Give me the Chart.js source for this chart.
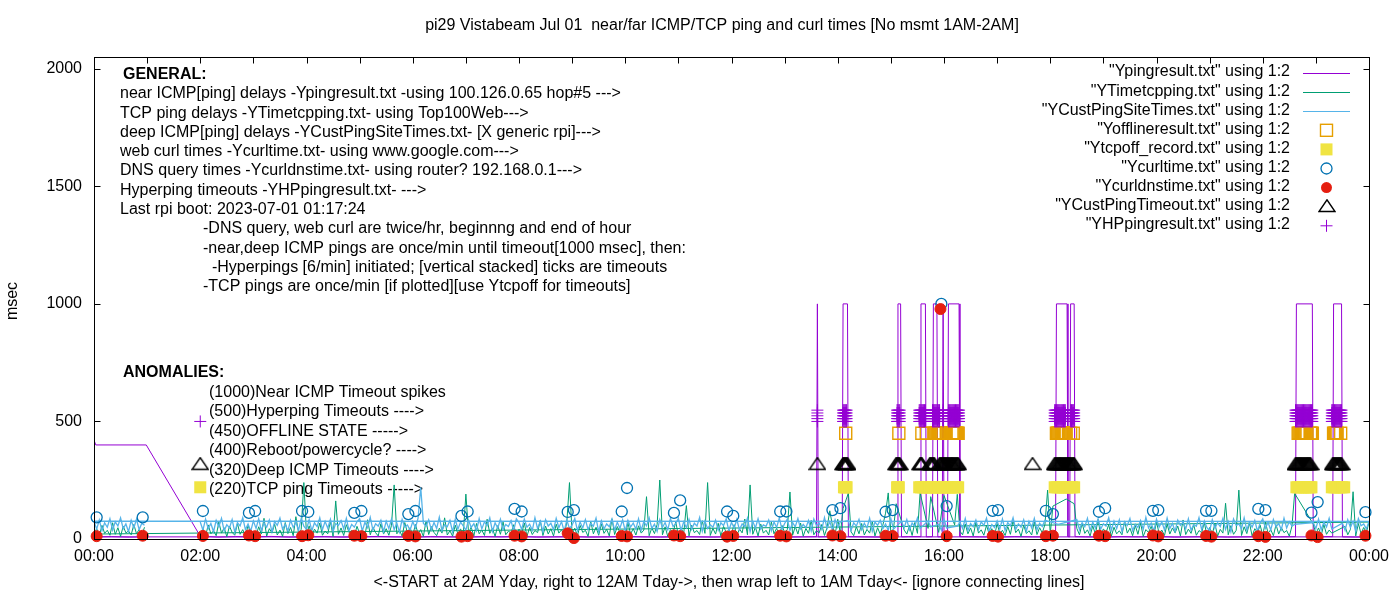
<!DOCTYPE html>
<html>
<head>
<meta charset="utf-8">
<script src="https://cdn.jsdelivr.net/npm/chart.js@4/dist/chart.umd.min.js"></script>
<style>
  html, body { margin: 0; padding: 0; background: #fff; }
</style>
</head>
<body>
<canvas id="pingChart" width="1400" height="600"></canvas>

<script>
const FONT = '"Liberation Sans", Arial, sans-serif';

const chartTitle = 'pi29 Vistabeam Jul 01  near/far ICMP/TCP ping and curl times [No msmt 1AM-2AM]';
const xTitle = '<-START at 2AM Yday, right to 12AM Tday->, then wrap left to 1AM Tday<- [ignore connecting lines]';
const yTitle = 'msec';
const timeLabels = ['00:00', '02:00', '04:00', '06:00', '08:00', '10:00', '12:00',
                    '14:00', '16:00', '18:00', '20:00', '22:00', '00:00'];
const yTickValues = [0, 500, 1000, 1500, 2000];

const generalNotes = [
    'near ICMP[ping] delays -Ypingresult.txt -using 100.126.0.65 hop#5 --->',
    'TCP ping delays -YTimetcpping.txt- using Top100Web--->',
    'deep ICMP[ping] delays -YCustPingSiteTimes.txt- [X generic rpi]--->',
    'web curl times -Ycurltime.txt- using www.google.com--->',
    'DNS query times -Ycurldnstime.txt- using router? 192.168.0.1--->',
    'Hyperping timeouts -YHPpingresult.txt- --->',
    'Last rpi boot: 2023-07-01 01:17:24'
];
const scheduleNotes = [
    '-DNS query, web curl are twice/hr, beginnng and end of hour',
    '-near,deep ICMP pings are once/min until timeout[1000 msec], then:',
    '  -Hyperpings [6/min] initiated; [vertical stacked] ticks are timeouts',
    '-TCP pings are once/min [if plotted][use Ytcpoff for timeouts]'
];
const anomalyNotes = [
    '(1000)Near ICMP Timeout spikes',
    '(500)Hyperping Timeouts ---->',
    '(450)OFFLINE STATE ----->',
    '(400)Reboot/powercycle? ---->',
    '(320)Deep ICMP Timeouts ---->',
    '(220)TCP ping Timeouts ----->'
];

// x values are minutes after midnight; file order is 2AM..midnight, then wraps to 0..1AM
const pingPoints = [
    [0, 421], [2, 400], [59, 400], [120, 12],
    [140, 8], [160, 10], [180, 9], [200, 11], [220, 8], [240, 9], [260, 10], [280, 8], [300, 9], [320, 11],
    [340, 9], [360, 8], [380, 10], [400, 9], [420, 8], [440, 10], [460, 9], [480, 11], [500, 8], [520, 9],
    [540, 10], [560, 8], [580, 9], [600, 11], [620, 9], [640, 8], [660, 10], [680, 9], [700, 8], [720, 10],
    [740, 9], [760, 11], [780, 8], [800, 9], [816, 10], [817, 1000], [818, 9], [830, 10],
    [845, 9], [846, 1000], [851, 1000], [852, 10], [870, 9], [890, 8],
    [907, 9], [908, 1000], [911, 1000], [912, 9], [920, 10],
    [933, 10], [934, 1000], [939, 1000], [940, 9], [947, 10], [948, 1000], [952, 1000], [953, 9],
    [958, 10], [959, 1000], [960, 10], [964, 9], [965, 1000], [977, 1000], [978, 10],
    [1000, 9], [1020, 8], [1040, 10], [1060, 9],
    [1086, 9], [1087, 1000], [1099, 1000], [1100, 10], [1102, 9], [1103, 1000], [1107, 1000], [1108, 10],
    [1120, 9], [1140, 8], [1160, 10], [1180, 9], [1200, 11], [1220, 8], [1240, 9], [1260, 10], [1280, 8],
    [1300, 9], [1320, 10], [1340, 9], [1357, 10], [1358, 1000], [1376, 1000], [1377, 9], [1390, 10],
    [1399, 10], [1400, 1000], [1409, 1000], [1410, 9], [1425, 8], [1440, 9],
    [0, 9], [20, 10], [40, 8], [58, 9]
];

// TCP ping, one value every 3 minutes from 02:00 to 24:00 (null = timeout), then 00:00..00:57
const tcpDay = [
    18, 45, 12, 60, 22, 35, 14, 72, 25, 48, 10, 55, 28, 16, 66, 20, 40, 13, 58, 24,
    30, 15, 52, 21, 88, 12, 44, 26, 63, 17, 38, 11, 70, 23, 49, 14, 95, 27, 41, 240,
    19, 56, 13, 42, 25, 68, 16, 34, 22, 75, 11, 162, 20, 47, 15, 61, 28, 36, 12, 54,
    24, 39, 14, 82, 18, 51, 27, 13, 65, 21, 44, 16, 58, 230, 22, 37, 12, 70, 26, 48,
    15, 62, 23, 40, 11, 77, 19, 53, 28, 14, 46, 25, 90, 17, 35, 12, 59, 21, 43, 16,
    191, 27, 50, 13, 66, 22, 38, 15, 84, 24, 45, 11, 57, 20, 72, 18, 33, 26, 61, 14,
    42, 23, 68, 12, 49, 19, 36, 27, 80, 15, 55, 21, 44, 13, 63, 25, 39, 17, 71, 240,
    20, 46, 14, 58, 28, 37, 11, 75, 22, 50, 16, 64, 24, 41, 13, 86, 19, 53, 27, 35,
    12, 69, 21, 44, 17, 56, 25, 38, 180, 14, 47, 23, 62, 251, 18, 52, 11, 40, 26, 73,
    16, 48, 22, 142, 13, 59, 27, 36, 19, 78, 24, 240, 15, 45, 21, 67, 12, 54, 28, 39,
    23, 61, 14, 43, 26, 85, 18, 230, 20, 50, 13, 64, 25, 37, 17, 72, 22, 46, 11, 58,
    27, 40, 200, 16, 53, 21, 68, 12, 45, 24, 79, 18, 36, 26, 62, 15, 49, 120, 57, 19,
    84, 23, 130, null, 195, 31, 14, 52, 22, 66, 17, 41, 25, 75, 13, 48, 20, 60, 110, 196,
    26, 44, 150, null, null, 38, 21, 57, 15, 70, 24, 197, null, null, 45, 180, null, null, 28, null,
    185, null, null, null, 60, 190, 33, 18, 64, 22, 47, 13, 71, 25, 39, 16, 58, 21, 44, 12,
    66, 24, 37, 15, 53, 20, 80, 27, 42, 11, 59, 23, 35, 17, 74, 19, 48, 26, 62, 208,
    22, 140, null, null, null, null, 170, null, null, 150, 45, 18, 67, 24, 39, 13, 56, 21, 83, 16,
    43, 27, 61, 12, 50, 22, 35, 18, 77, 25, 46, 14, 58, 20, 69, 11, 40, 28, 54, 17,
    72, 23, 38, 15, 64, 21, 47, 26, 55, 13, 81, 19, 42, 24, 60, 16, 36, 27, 70, 14,
    49, 22, 65, 12, 41, 25, 152, 18, 57, 20, 37, 208, 15, 52, 23, 68, 13, 44, 26, 59,
    17, 73, 24, 40, 14, 61, 21, 48, 27, 36, 12, 55, 194, null, null, null, null, null, null, 64,
    23, 47, 15, 62, 20, 38, 25, null, null, null, null, 54, 18, 41, 201, 13, 66, 22, 49, 27,
    72
];
const tcpWrap = [21, 44, 13, 58, 24, 37, 16, 69, 20, 48, 11, 55, 26, 34, 18, 62, 22, 41, 14, 50];

// deep ICMP ping, same sampling
const deepDay = [
    72, 38, 85, 44, 66, 31, 79, 52, 88, 35, 61, 47, 83, 29, 70, 56, 91, 40, 64, 33,
    77, 45, 86, 36, 68, 50, 81, 30, 74, 58, 89, 42, 63, 34, 80, 49, 71, 37, 87, 55,
    41, 82, 35, 69, 53, 90, 39, 75, 46, 84, 32, 66, 57, 78, 43, 88, 36, 62, 50, 73,
    86, 34, 71, 48, 92, 38, 65, 55, 80, 31, 76, 44, 85, 40, 68, 29, 83, 51, 60, 37,
    74, 47, 89, 220, 67, 54, 82, 39, 70, 45, 93, 36, 61, 52, 79, 30, 84, 42, 72, 56,
    38, 81, 49, 65, 35, 87, 43, 73, 57, 90, 32, 69, 46, 84, 40, 62, 53, 78, 34, 86,
    70, 41, 85, 50, 63, 37, 91, 44, 76, 31, 82, 55, 67, 39, 88, 48, 74, 33, 80, 45,
    59, 87, 36, 72, 47, 83, 40, 66, 54, 89, 30, 77, 43, 64, 52, 85, 38, 71, 46, 81,
    34, 79, 51, 68, 42, 86, 37, 74, 56, 90, 45, 63, 32, 82, 49, 70, 39, 87, 53, 65,
    88, 35, 73, 48, 84, 41, 67, 55, 92, 33, 76, 44, 61, 50, 80, 38, 69, 57, 85, 36,
    71, 46, 83, 39, 64, 53, 89, 31, 75, 47, 86, 42, 60, 54, 81, 35, 72, 49, 90, 40,
    66, 84, 37, 70, 52, 87, 43, 62, 48, 79, 34, 85, 56, 68, 41, 91, 45, 74, 38, 82,
    50, 73, null, null, 78, 36, 69, 55, 84, 40, 67, 47, 88, 33, 72, 58, 80, 44, 64, 37,
    86, 42, null, null, 75, 48, 83, 39, 68, 54, 90, 45, null, null, 77, 51, null, null, 63, 38,
    84, 47, null, null, null, 55, 71, 45, 87, 36, 66, 52, 81, 40, 73, 58, 89, 34, 62, 49,
    77, 43, 85, 37, 70, 56, 91, 41, 64, 50, 82, 33, 75, 47, 88, 39, 67, 53, 80, null,
    null, null, null, 62, null, null, null, 74, null, null, 83, 40, 69, 52, 88, 35, 72, 46, 85, 42,
    65, 55, 90, 38, 76, 44, 82, 31, 70, 57, 87, 36, 63, 49, 79, 41, 92, 47, 68, 34,
    84, 51, 73, 39, 89, 45, 66, 32, 80, 58, 71, 43, 86, 37, 62, 54, 91, 40, 77, 48,
    35, 82, 46, 69, 53, 88, 41, 74, 30, 85, 57, 64, 44, 90, 38, 72, 50, 79, 33, 67,
    86, 45, 71, 38, 83, 52, 66, 40, 89, 47, 74, 55, 62, null, null, null, null, null, null, 70,
    44, 85, 39, 73, 51, 88, 42, null, null, null, 67, 37, 82, 49, 76, 34, 87, 56, 64, 43,
    75
];
const deepWrap = [76, 42, 81, 35, 69, 50, 86, 38, 73, 55, 90, 44, 64, 31, 79, 47, 84, 40, 67, 58];

const OFFLINE_LEVEL = 450;
const offlineTimes = [
    849, 909, 935, 940, 949, 950, 951, 952, 953, 954, 955, 956, 957, 958, 959,
    969, 970, 971, 972, 973, 974, 975, 976,
    1087, 1088, 1089, 1090, 1091, 1092, 1093, 1094, 1095, 1096, 1097, 1098, 1103, 1106,
    1360, 1361, 1362, 1363, 1364, 1365, 1366, 1367, 1368, 1369, 1370, 1374, 1375, 1376,
    1400, 1401, 1402, 1403, 1404, 1408
];

const TCPOFF_LEVEL = 220;
const tcpoffTimes = [
    120, 847, 848, 849, 850, 907, 908, 909,
    932, 934, 936, 938, 940, 942, 944, 946, 948, 950, 952, 954, 956, 958, 960, 962, 964, 966, 968, 970, 972, 974, 976,
    1085, 1087, 1089, 1091, 1093, 1095, 1097, 1099, 1101, 1103, 1105, 1107,
    1358, 1360, 1362, 1364, 1366, 1368, 1370, 1372, 1374, 1375,
    1398, 1400, 1402, 1404, 1406, 1408, 1410, 1412
];

const curlTimes = [
    3, 55, 123, 175, 182, 235, 242, 294, 302, 355, 363, 415, 422, 475, 483, 535, 542, 596, 602,
    655, 662, 715, 722, 775, 782, 834, 843, 894, 902, 957, 963, 1015, 1021, 1075, 1083,
    1135, 1142, 1196, 1202, 1256, 1262, 1315, 1323, 1375, 1382, 1436
];
const curlValues = [
    92, 92, 119, 111, 119, 119, 115, 111, 119, 106, 119, 98, 117, 128, 117, 115, 123, 117, 217,
    111, 164, 117, 98, 117, 117, 123, 131, 116, 123, 1000, 140, 120, 123, 120, 106,
    116, 131, 120, 123, 120, 120, 128, 123, 112, 157, 114
];

const dnsTimes = [
    3, 55, 123, 175, 182, 235, 242, 294, 302, 355, 363, 415, 422, 475, 483, 535, 542, 596, 602,
    655, 662, 715, 722, 775, 782, 834, 843, 894, 902, 956, 963, 1015, 1021, 1075, 1083,
    1135, 1142, 1196, 1202, 1256, 1262, 1315, 1323, 1375, 1382, 1436
];
const dnsValues = [
    12, 14, 13, 15, 12, 12, 16, 14, 12, 13, 11, 10, 12, 14, 11, 24, 4, 13, 11,
    15, 12, 10, 13, 14, 11, 15, 12, 14, 13, 978, 12, 13, 10, 12, 14,
    14, 12, 15, 11, 13, 10, 12, 9, 15, 8, 14
];

const CUST_TIMEOUT_LEVEL = 320;
const custTimeoutTimes = [
    120, 817, 846, 847, 848, 849, 850, 851, 906, 907, 908, 909, 910,
    933, 934, 935, 944, 945, 946, 947, 948, 949,
    955, 956, 957, 958, 959, 960, 961, 962, 963, 964, 965, 966, 967, 968, 969, 970, 971, 972, 973, 974, 975, 976,
    1060,
    1085, 1086, 1087, 1088, 1089, 1090, 1091, 1092, 1093, 1094, 1095, 1096, 1097, 1098, 1099, 1100,
    1101, 1102, 1103, 1104, 1105, 1106, 1107,
    1357, 1358, 1359, 1360, 1361, 1362, 1363, 1364, 1365, 1366, 1367, 1368, 1369, 1370, 1371, 1372, 1373, 1374,
    1399, 1400, 1401, 1402, 1403, 1404, 1405, 1406, 1407, 1408, 1409
];

// hyperping timeouts: stacked ticks at each timeout minute
const hpLevels = [500, 512, 524, 536, 548];
const hpTimes = [
    817, 846, 847, 848, 849, 850, 907, 908, 909, 910,
    932, 933, 934, 935, 936, 937, 938, 939,
    947, 948, 949, 950, 951, 952, 953, 954, 955, 959,
    965, 966, 967, 968, 969, 970, 971, 972, 973, 974, 975, 976, 977,
    1085, 1086, 1087, 1088, 1089, 1090, 1091, 1092, 1093, 1094, 1095, 1096, 1097,
    1103, 1104, 1105, 1106, 1107,
    1357, 1358, 1359, 1360, 1361, 1362, 1363, 1364, 1365, 1366, 1367, 1368, 1369, 1370,
    1371, 1372, 1373, 1374, 1375, 1376,
    1398, 1399, 1400, 1401, 1402, 1403, 1404, 1405, 1406, 1407, 1408, 1409
];
const hpMarker = [120, 500];

function stepSeries(start, step, values) {
    const pts = [];
    values.forEach((v, i) => {
        if (v !== null) pts.push({ x: start + i * step, y: v });
    });
    return pts;
}

function levelSeries(times, level) {
    return times.map(t => ({ x: t, y: level }));
}

function makeTriangle() {
    const c = document.createElement('canvas');
    c.width = 18;
    c.height = 14;
    const g = c.getContext('2d');
    g.strokeStyle = '#000';
    g.lineWidth = 1.4;
    g.beginPath();
    g.moveTo(1, 12.5);
    g.lineTo(17, 12.5);
    g.lineTo(9, 0.8);
    g.closePath();
    g.stroke();
    return c;
}
const triangleMark = makeTriangle();

function drawKeySample(ctx, ds, x, y) {
    ctx.save();
    if (ds.showLine) {
        ctx.strokeStyle = ds.borderColor;
        ctx.lineWidth = 1;
        ctx.beginPath();
        ctx.moveTo(1303, Math.round(y) + 0.5);
        ctx.lineTo(1350, Math.round(y) + 0.5);
        ctx.stroke();
    } else if (ds.pointStyle === 'rect' && ds.keyFilled) {
        ctx.fillStyle = ds.backgroundColor;
        ctx.fillRect(x - 6, y - 6, 12, 12);
    } else if (ds.pointStyle === 'rect') {
        ctx.strokeStyle = ds.borderColor;
        ctx.lineWidth = ds.borderWidth;
        ctx.strokeRect(x - 6, y - 6, 12, 12);
    } else if (ds.pointStyle === 'circle') {
        ctx.beginPath();
        ctx.arc(x, y, 5.5, 0, Math.PI * 2);
        if (ds.keyFilled) {
            ctx.fillStyle = ds.backgroundColor;
            ctx.fill();
        } else {
            ctx.strokeStyle = ds.borderColor;
            ctx.lineWidth = ds.borderWidth;
            ctx.stroke();
        }
    } else if (ds.pointStyle === 'cross') {
        ctx.strokeStyle = ds.borderColor;
        ctx.lineWidth = 1;
        ctx.beginPath();
        ctx.moveTo(x - 6, y);
        ctx.lineTo(x + 6, y);
        ctx.moveTo(x, y - 6);
        ctx.lineTo(x, y + 6);
        ctx.stroke();
    } else {
        ctx.drawImage(triangleMark, Math.round(x) - 9, Math.round(y) - 8);
    }
    ctx.restore();
}

const gnuplotFrame = {
    id: 'gnuplotFrame',
    beforeDatasetsDraw(chart) {
        const ctx = chart.ctx;
        ctx.save();
        ctx.fillStyle = '#000';
        ctx.textBaseline = 'middle';
        ctx.textAlign = 'left';
        ctx.font = 'bold 16px ' + FONT;
        ctx.fillText('GENERAL:', 123, 75);
        ctx.fillText('ANOMALIES:', 123, 373);
        ctx.font = '16px ' + FONT;
        generalNotes.forEach((t, i) => ctx.fillText(t, 120, 94 + i * 19.25));
        scheduleNotes.forEach((t, i) => ctx.fillText(t, 203, 229 + i * 19.3));
        anomalyNotes.forEach((t, i) => ctx.fillText(t, 209, 392.5 + i * 19.4));
        ctx.restore();
    },
    afterDatasetsDraw(chart) {
        const ctx = chart.ctx;
        const a = chart.chartArea;
        const xs = chart.scales.x;
        const ys = chart.scales.y;
        ctx.save();
        ctx.strokeStyle = '#000';
        ctx.lineWidth = 1;
        ctx.beginPath();
        for (let m = 0; m <= 1440; m += 60) {
            const px = Math.round(xs.getPixelForValue(m)) + 0.5;
            ctx.moveTo(px, a.bottom + 0.5);
            ctx.lineTo(px, a.bottom - 5.5);
            ctx.moveTo(px, a.top + 0.5);
            ctx.lineTo(px, a.top + 6.5);
        }
        yTickValues.forEach(v => {
            const py = Math.round(ys.getPixelForValue(v)) + 0.5;
            ctx.moveTo(a.left + 0.5, py);
            ctx.lineTo(a.left + 6.5, py);
            ctx.moveTo(a.right + 0.5, py);
            ctx.lineTo(a.right - 5.5, py);
        });
        ctx.stroke();
        ctx.strokeRect(a.left + 0.5, a.top + 0.5, a.right - a.left, a.bottom - a.top);
        ctx.restore();
    },
    afterDraw(chart) {
        const ctx = chart.ctx;
        ctx.save();
        ctx.fillStyle = '#000';
        ctx.font = '16px ' + FONT;
        ctx.textBaseline = 'middle';
        ctx.textAlign = 'center';
        ctx.fillText(chartTitle, 722, 26);
        ctx.fillText(xTitle, 729, 583);
        ctx.save();
        ctx.translate(13, 301);
        ctx.rotate(-Math.PI / 2);
        ctx.fillText(yTitle, 0, 0);
        ctx.restore();
        ctx.textAlign = 'right';
        chart.data.datasets.forEach((ds, i) => {
            const y = 73 + i * 19.1;
            ctx.fillStyle = '#000';
            ctx.fillText(ds.label, 1290, y - 1);
            drawKeySample(ctx, ds, 1326.5, y);
        });
        ctx.restore();
    }
};

const datasets = [
    {
        label: '"Ypingresult.txt" using 1:2',
        data: pingPoints.map(([x, y]) => ({ x, y })),
        showLine: true, borderColor: '#9400D3', borderWidth: 1, pointRadius: 0, order: 9
    },
    {
        label: '"YTimetcpping.txt" using 1:2',
        data: stepSeries(120, 3, tcpDay).concat(stepSeries(0, 3, tcpWrap)),
        showLine: true, borderColor: '#009E73', borderWidth: 1, pointRadius: 0, order: 8
    },
    {
        label: '"YCustPingSiteTimes.txt" using 1:2',
        data: stepSeries(120, 3, deepDay).concat(stepSeries(0, 3, deepWrap)),
        showLine: true, borderColor: '#56B4E9', borderWidth: 1.3, pointRadius: 0, order: 7
    },
    {
        label: '"Yofflineresult.txt" using 1:2',
        data: levelSeries(offlineTimes, OFFLINE_LEVEL),
        pointStyle: 'rect', pointRadius: 8.5, borderColor: '#E69F00', borderWidth: 1.4,
        backgroundColor: 'rgba(0,0,0,0)', clip: false, order: 6
    },
    {
        label: '"Ytcpoff_record.txt" using 1:2',
        data: levelSeries(tcpoffTimes, TCPOFF_LEVEL),
        pointStyle: 'rect', pointRadius: 8.5, borderWidth: 0, borderColor: '#F0E442',
        backgroundColor: '#F0E442', keyFilled: true, clip: false, order: 5
    },
    {
        label: '"Ycurltime.txt" using 1:2',
        data: curlTimes.map((t, i) => ({ x: t, y: curlValues[i] })),
        pointStyle: 'circle', pointRadius: 5.5, borderColor: '#0072B2', borderWidth: 1.3,
        backgroundColor: 'rgba(0,0,0,0)', clip: false, order: 4
    },
    {
        label: '"Ycurldnstime.txt" using 1:2',
        data: dnsTimes.map((t, i) => ({ x: t, y: dnsValues[i] })),
        pointStyle: 'circle', pointRadius: 5.5, borderColor: '#E51E10', borderWidth: 1,
        backgroundColor: '#E51E10', keyFilled: true, clip: false, order: 3
    },
    {
        label: '"YCustPingTimeout.txt" using 1:2',
        data: levelSeries(custTimeoutTimes, CUST_TIMEOUT_LEVEL),
        pointStyle: triangleMark, pointRadius: 8, borderColor: '#000', clip: false, order: 2
    },
    {
        label: '"YHPpingresult.txt" using 1:2',
        data: hpTimes.flatMap(t => hpLevels.map(v => ({ x: t, y: v })))
            .concat([{ x: hpMarker[0], y: hpMarker[1] }]),
        pointStyle: 'cross', pointRadius: 6, borderColor: '#9400D3', borderWidth: 1,
        clip: false, order: 1
    }
];

const tickFont = { family: FONT, size: 16 };

new Chart(document.getElementById('pingChart').getContext('2d'), {
    type: 'scatter',
    data: { datasets: datasets },
    options: {
        responsive: false,
        animation: false,
        events: [],
        layout: { padding: { top: 57, right: 31, bottom: 0, left: 0 } },
        scales: {
            x: {
                type: 'linear',
                min: 0,
                max: 1440,
                grid: { display: false, drawTicks: false },
                border: { display: false },
                ticks: {
                    stepSize: 120,
                    autoSkip: false,
                    maxRotation: 0,
                    includeBounds: false,
                    padding: 8,
                    color: '#000',
                    font: tickFont,
                    callback: function(value) {
                        return timeLabels[value / 120];
                    }
                },
                afterFit: function(scale) { scale.height = 61; }
            },
            y: {
                min: 0,
                max: 2050,
                grid: { display: false, drawTicks: false },
                border: { display: false },
                ticks: {
                    autoSkip: false,
                    padding: 12,
                    color: '#000',
                    font: tickFont,
                    callback: function(value) {
                        return String(value);
                    }
                },
                afterBuildTicks: function(scale) {
                    scale.ticks = yTickValues.map(v => ({ value: v }));
                },
                afterFit: function(scale) { scale.width = 94; }
            }
        },
        plugins: {
            legend: { display: false },
            tooltip: { enabled: false }
        }
    },
    plugins: [gnuplotFrame]
});
</script>
</body>
</html>
